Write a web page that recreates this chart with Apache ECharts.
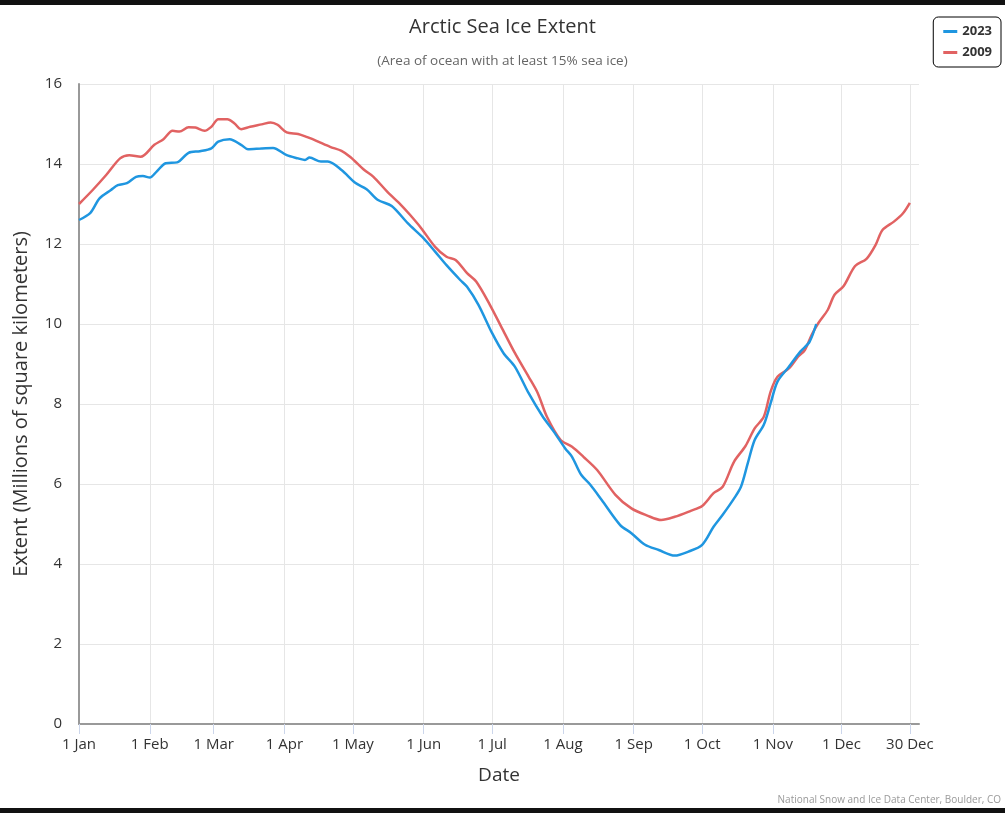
<!DOCTYPE html>
<html>
<head>
<meta charset="utf-8">
<script src="https://cdn.jsdelivr.net/npm/echarts@6/dist/echarts.min.js"></script>
<style>
  html, body { margin: 0; padding: 0; background: #fff; }
  #chart { width: 1005px; height: 813px; }
</style>
</head>
<body>
<div id="chart"></div>
<script>
// day of year (1 Jan = 0) and extent in millions of km2
var days2009 = [0, 6, 12, 18, 22, 27, 33, 37, 41, 44, 48, 51, 55, 58, 61, 65, 68, 71, 75, 80, 84, 87, 91, 96, 100, 104, 110, 115, 119, 125, 129, 135, 141, 145, 150, 156, 161, 165, 170, 174, 180, 185, 191, 197, 201, 205, 211, 216, 221, 227, 235, 242, 249, 255, 261, 268, 273, 278, 282, 287, 292, 296, 300, 303, 306, 311, 315, 318, 321, 324, 328, 331, 335, 340, 345, 349, 352, 357, 361, 364];
var ext2009 = [13.0, 13.35, 13.73, 14.14, 14.22, 14.18, 14.48, 14.62, 14.83, 14.81, 14.92, 14.91, 14.83, 14.93, 15.12, 15.12, 15.02, 14.87, 14.93, 14.99, 15.04, 14.98, 14.79, 14.75, 14.67, 14.58, 14.43, 14.33, 14.17, 13.85, 13.68, 13.31, 12.98, 12.73, 12.39, 11.93, 11.68, 11.6, 11.27, 11.06, 10.48, 9.93, 9.27, 8.68, 8.27, 7.68, 7.1, 6.93, 6.68, 6.35, 5.73, 5.39, 5.21, 5.1, 5.18, 5.33, 5.45, 5.77, 5.93, 6.56, 6.95, 7.39, 7.68, 8.31, 8.68, 8.89, 9.18, 9.35, 9.73, 10.03, 10.35, 10.73, 10.95, 11.45, 11.63, 11.98, 12.35, 12.56, 12.77, 13.03];

var days2023 = [0, 5, 9, 14, 17, 21, 25, 28, 31, 34, 38, 43, 48, 53, 58, 61, 66, 71, 74, 80, 85, 91, 96, 99, 101, 106, 109, 115, 121, 126, 131, 137, 144, 151, 156, 161, 167, 170, 175, 181, 186, 191, 197, 203, 208, 213, 216, 220, 224, 229, 237, 242, 248, 254, 261, 267, 273, 278, 282, 287, 290, 293, 296, 300, 303, 306, 311, 316, 320, 323];
var ext2023 = [12.6, 12.78, 13.14, 13.35, 13.47, 13.52, 13.68, 13.7, 13.66, 13.81, 14.02, 14.04, 14.28, 14.32, 14.39, 14.56, 14.62, 14.48, 14.37, 14.39, 14.4, 14.22, 14.14, 14.1, 14.16, 14.06, 14.06, 13.85, 13.53, 13.37, 13.1, 12.95, 12.52, 12.14, 11.81, 11.47, 11.1, 10.93, 10.48, 9.77, 9.27, 8.93, 8.27, 7.7, 7.31, 6.89, 6.68, 6.23, 5.98, 5.6, 4.98, 4.77, 4.48, 4.35, 4.21, 4.31, 4.48, 4.93, 5.23, 5.64, 5.93, 6.52, 7.1, 7.48, 8.02, 8.56, 8.93, 9.31, 9.55, 10.0];

var tickDays = [0, 31, 59, 90, 120, 151, 181, 212, 243, 273, 304, 334, 364];
var tickLabels = ['1 Jan', '1 Feb', '1 Mar', '1 Apr', '1 May', '1 Jun', '1 Jul', '1 Aug', '1 Sep', '1 Oct', '1 Nov', '1 Dec', '30 Dec'];

var nDays = 369;
var categories = [];
for (var i = 0; i < nDays; i++) categories.push(String(i));

function isTick(idx) { return tickDays.indexOf(idx) >= 0; }

function pairs(days, vals) {
    return days.map(function (d, i) { return [d, vals[i]]; });
}

var font = 'Open Sans';
var myChart = echarts.init(document.getElementById('chart'));
myChart.setOption({
    backgroundColor: '#fff',
    animation: false,
    textStyle: { fontFamily: font },
    title: [
        {
            text: 'Arctic Sea Ice Extent',
            left: 'center',
            top: 12,
            textStyle: { fontFamily: font, fontSize: 20, fontWeight: 'normal', color: '#333' }
        },
        {
            text: '(Area of ocean with at least 15% sea ice)',
            left: 'center',
            top: 49,
            textStyle: { fontFamily: font, fontSize: 13.5, fontWeight: 'normal', color: '#666' }
        }
    ],
    legend: {
        orient: 'vertical',
        right: 4,
        top: 17,
        padding: [8, 9, 8, 10],
        itemGap: 8,
        itemWidth: 14,
        itemHeight: 3,
        icon: 'rect',
        borderColor: '#000',
        borderWidth: 1,
        borderRadius: 5,
        textStyle: { fontFamily: font, fontSize: 13, fontWeight: 'bold', color: '#333' },
        data: ['2023', '2009']
    },
    grid: { left: 79, right: 86, top: 84, bottom: 89 },
    xAxis: {
        type: 'category',
        data: categories,
        boundaryGap: false,
        name: 'Date',
        nameLocation: 'middle',
        nameGap: 42,
        nameTextStyle: { fontFamily: font, fontSize: 19, color: '#333' },
        axisLine: { lineStyle: { color: '#999', width: 2 } },
        axisTick: {
            length: 10,
            interval: function (idx) { return isTick(idx); },
            lineStyle: { color: '#ccd6eb', width: 1 }
        },
        axisLabel: {
            interval: function (idx) { return isTick(idx); },
            formatter: function (v, idx) { return tickLabels[tickDays.indexOf(idx)]; },
            fontFamily: font,
            fontSize: 15,
            color: '#333',
            margin: 13
        },
        splitLine: {
            show: true,
            interval: function (idx) { return isTick(idx) && idx > 0; },
            lineStyle: { color: '#e6e6e6', width: 1 }
        }
    },
    yAxis: {
        type: 'value',
        min: 0,
        max: 16,
        interval: 2,
        name: 'Extent (Millions of square kilometers)',
        nameLocation: 'middle',
        nameGap: 48,
        nameTextStyle: { fontFamily: font, fontSize: 20, color: '#333' },
        axisLine: { show: true, lineStyle: { color: '#999', width: 2 } },
        axisTick: { show: false },
        axisLabel: { fontFamily: font, fontSize: 15, color: '#333', margin: 17 },
        splitLine: { lineStyle: { color: '#e6e6e6', width: 1 } }
    },
    series: [
        {
            name: '2023',
            type: 'line',
            data: pairs(days2023, ext2023),
            showSymbol: false,
            smooth: 0.3,
            color: '#1f96e0',
            lineStyle: { width: 2.5 },
            z: 3
        },
        {
            name: '2009',
            type: 'line',
            data: pairs(days2009, ext2009),
            showSymbol: false,
            smooth: 0.3,
            color: '#e16262',
            lineStyle: { width: 2.5 },
            z: 2
        }
    ],
    graphic: [
        { type: 'rect', left: 0, top: 0, shape: { width: 1005, height: 5 }, style: { fill: '#111' } },
        { type: 'rect', left: 0, top: 808, shape: { width: 1005, height: 5 }, style: { fill: '#111' } },
        {
            type: 'text',
            right: 4,
            top: 795,
            style: { text: 'National Snow and Ice Data Center, Boulder, CO', fontFamily: font, fontSize: 10, fill: '#999' }
        }
    ]
});
</script>
</body>
</html>
